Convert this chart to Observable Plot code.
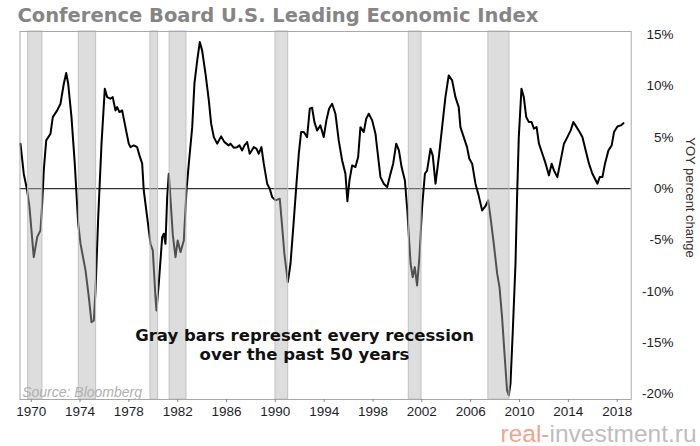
<!DOCTYPE html>
<html><head><meta charset="utf-8">
<script src="https://cdn.jsdelivr.net/npm/d3@7"></script>
<script src="https://cdn.jsdelivr.net/npm/@observablehq/plot@0.6"></script>
<style>
html,body{margin:0;padding:0;background:#fff}
#chart{width:700px;height:446px}
</style>
</head><body><div id="chart"></div>
<script>
// Decimal years of the readings and YoY % change of the LEI
const years = [
1969.12,1969.39,1969.67,1969.86,1970.21,1970.49,1970.76,1970.90,1971.03,1971.23,1971.58,1971.77,
1972.13,1972.40,1972.67,1972.87,1973.03,1973.30,1973.57,1973.85,1974.04,1974.45,1974.72,1974.94,
1975.13,1975.27,1975.49,1975.76,1976.03,1976.22,1976.49,1976.68,1976.90,1977.04,1977.23,1977.45,
1977.72,1977.99,1978.13,1978.40,1978.68,1978.87,1979.09,1979.22,1979.50,1979.77,1979.96,1980.18,
1980.26,1980.45,1980.73,1980.86,1981.00,1981.14,1981.27,1981.41,1981.60,1981.82,1982.00,1982.23,
1982.50,1982.72,1982.91,1983.19,1983.37,1983.60,1983.81,1984.00,1984.28,1984.55,1984.74,1984.96,
1985.23,1985.56,1985.83,1986.18,1986.32,1986.59,1986.87,1987.06,1987.28,1987.47,1987.69,1987.90,
1988.23,1988.45,1988.64,1988.86,1989.05,1989.33,1989.54,1989.74,1990.01,1990.36,1990.56,1990.74,
1991.02,1991.24,1991.51,1991.73,1991.92,1992.11,1992.33,1992.60,1992.82,1993.01,1993.20,1993.42,
1993.69,1993.96,1994.18,1994.40,1994.65,1994.92,1995.19,1995.47,1995.74,1995.90,1996.07,1996.29,
1996.56,1996.78,1996.97,1997.24,1997.44,1997.65,1997.93,1998.20,1998.42,1998.61,1998.88,1999.16,
1999.43,1999.65,1999.90,2000.12,2000.34,2000.61,2000.81,2000.94,2001.08,2001.25,2001.42,2001.61,
2001.80,2002.02,2002.25,2002.43,2002.71,2002.89,2003.12,2003.39,2003.66,2003.93,2004.20,2004.48,
2004.75,2005.02,2005.16,2005.43,2005.70,2005.89,2006.12,2006.39,2006.64,2006.94,2007.21,2007.43,
2007.62,2007.89,2008.17,2008.36,2008.57,2008.79,2008.98,2009.12,2009.26,2009.45,2009.67,2009.80,
2009.94,2010.16,2010.35,2010.55,2010.77,2010.99,2011.18,2011.40,2011.59,2011.87,2012.14,2012.41,
2012.63,2012.82,2013.10,2013.37,2013.64,2013.92,2014.19,2014.41,2014.68,2014.92,2015.15,2015.42,
2015.69,2015.97,2016.18,2016.38,2016.57,2016.79,2017.00,2017.28,2017.55,2017.74,2018.02,2018.29,
2018.51
];
const values = [
4.39,1.46,-0.17,-1.79,-6.67,-4.72,-4.06,-1.46,1.78,4.71,5.36,6.98,
7.63,8.28,10.23,11.27,10.23,6.98,2.44,-3.41,-5.36,-7.96,-10.57,-13.0,
-12.84,-9.91,-2.77,4.39,9.75,8.93,8.77,8.93,7.63,7.95,7.47,7.63,
6.0,4.39,4.05,4.22,4.05,3.25,2.44,-0.17,-2.77,-5.36,-6.01,-10.57,
-11.86,-9.26,-4.72,-4.39,-5.36,-0.82,1.46,-1.0,-4.5,-6.67,-5.04,-6.18,
-5.04,-0.17,2.44,6.0,10.23,12.5,14.29,13.48,11.2,8.61,6.34,5.03,
4.39,5.1,4.54,4.22,4.39,4.0,4.05,4.22,3.73,4.22,4.54,3.41,
4.05,3.9,3.41,4.05,2.44,0.49,0.0,-0.82,-1.14,-0.97,-3.74,-6.34,
-9.1,-7.31,-3.09,0.49,3.41,5.52,5.52,5.03,7.8,7.89,6.49,5.68,
6.17,5.03,6.66,7.8,8.28,7.31,4.71,2.76,1.46,-1.21,0.81,2.27,
2.11,3.08,6.0,5.52,6.82,7.31,6.66,5.36,3.08,1.13,0.49,0.16,
1.46,2.44,4.39,3.73,2.11,0.81,-2.12,-4.72,-7.31,-8.62,-7.64,-9.42,
-6.67,-1.79,1.46,1.78,3.9,3.25,0.49,3.08,6.0,8.93,11.04,10.56,
8.93,7.95,6.0,5.03,4.05,2.92,2.44,0.49,-0.6,-2.12,-1.7,-1.14,
-2.77,-5.36,-8.28,-9.59,-12.51,-16.41,-19.66,-20.15,-19.0,-13.81,-7.31,-0.82,
5.03,9.75,8.93,6.98,6.49,6.49,5.85,6.0,4.39,3.41,2.44,1.30,
2.44,1.78,1.13,2.76,4.39,5.03,5.68,6.49,6.0,5.52,5.03,3.73,
2.44,1.46,0.97,0.49,1.13,1.13,2.44,3.73,4.22,5.52,6.07,6.17,
6.39
];
// Recession bars (decimal years)
const recessionStart = [1969.75, 1973.90, 1979.77, 1981.34, 1990.01, 2000.93, 2007.45];
const recessionEnd   = [1970.92, 1975.32, 1980.40, 1982.72, 1991.05, 2001.97, 2009.18];

const xTicks = [1970,1974,1978,1982,1986,1990,1994,1998,2002,2006,2010,2014,2018];
const yTicks = [-20,-15,-10,-5,0,5,10,15];
const xDomain = [1969.083, 2019.148];
const yDomain = [-20.54, 15.32];

const titleText = "Conference Board U.S. Leading Economic Index";
const yLabelText = "YOY percent change";
const noteText = "Gray bars represent every recession\nover the past 50 years";
const sourceText = "Source: Bloomberg";
const markA = "real-";
const markB = "investment.ru";

const series = years.map((t, i) => ({t, v: values[i]}));
const recessions = recessionStart.map((s, i) => ({s, e: recessionEnd[i]}));

const chart = Plot.plot({
  width: 700,
  height: 446,
  marginLeft: 19.5,
  marginRight: 69.3,
  marginTop: 31,
  marginBottom: 47,
  style: {fontFamily: "'Liberation Sans', Arial, sans-serif", fontSize: "13.5px", color: "#222", background: "#fff"},
  x: {domain: xDomain},
  y: {domain: yDomain},
  marks: [
    Plot.ruleY([0], {stroke: "#000", strokeWidth: 1}),
    Plot.line(series, {x: "t", y: "v", stroke: "#000", strokeWidth: 2, strokeLinejoin: "round"}),
    Plot.rect(recessions, {x1: "s", x2: "e", fill: "#b4b4b4", fillOpacity: 0.45, stroke: "#c2c2c2", strokeWidth: 1}),
    Plot.frame({stroke: "#a8a8a8"}),
    Plot.axisX({ticks: xTicks, tickFormat: d => String(d), tickSize: 3, tickPadding: 4, stroke: "#888", color: "#1e1e2a", label: null}),
    Plot.axisY({anchor: "right", ticks: yTicks, tickFormat: d => d + "%", tickSize: 4, tickPadding: 5, textAnchor: "end", dx: 33.3, stroke: "#888", color: "#1e1e2a", label: null}),
    Plot.text([titleText], {text: d => d, frameAnchor: "top-left", textAnchor: "start", lineAnchor: "bottom", dx: -2.5, dy: -9.5, fontSize: 19.5, fontWeight: "bold", fill: "#858585", fontFamily: "'DejaVu Sans', sans-serif"}),
    Plot.text([yLabelText], {text: d => d, frameAnchor: "right", rotate: 90, textAnchor: "middle", lineAnchor: "middle", dx: 58.5, dy: -18, fontSize: 13, fill: "#333"}),
    Plot.text([noteText], {text: d => d, frameAnchor: "top-left", textAnchor: "middle", lineAnchor: "bottom", dx: 284.5, dy: 328, fontSize: 16.5, fontWeight: "bold", lineHeight: 1.13, fill: "#111", fontFamily: "'DejaVu Sans', sans-serif"}),
    Plot.text([sourceText], {text: d => d, frameAnchor: "bottom-left", textAnchor: "start", lineAnchor: "bottom", dx: 2.2, dy: -3, fontSize: 14, fontStyle: "italic", fill: "#b0b0b0"}),
    Plot.text([markA], {text: d => d, frameAnchor: "bottom-right", textAnchor: "end", lineAnchor: "bottom", dx: -81.7, dy: 42, fontSize: 24.5, fill: "#f2a48e"}),
    Plot.text([markB], {text: d => d, frameAnchor: "bottom-right", textAnchor: "start", lineAnchor: "bottom", dx: -81.7, dy: 42, fontSize: 24.5, fill: "#bdbdbd"})
  ]
});
document.getElementById("chart").appendChild(chart);
</script>
</body></html>
